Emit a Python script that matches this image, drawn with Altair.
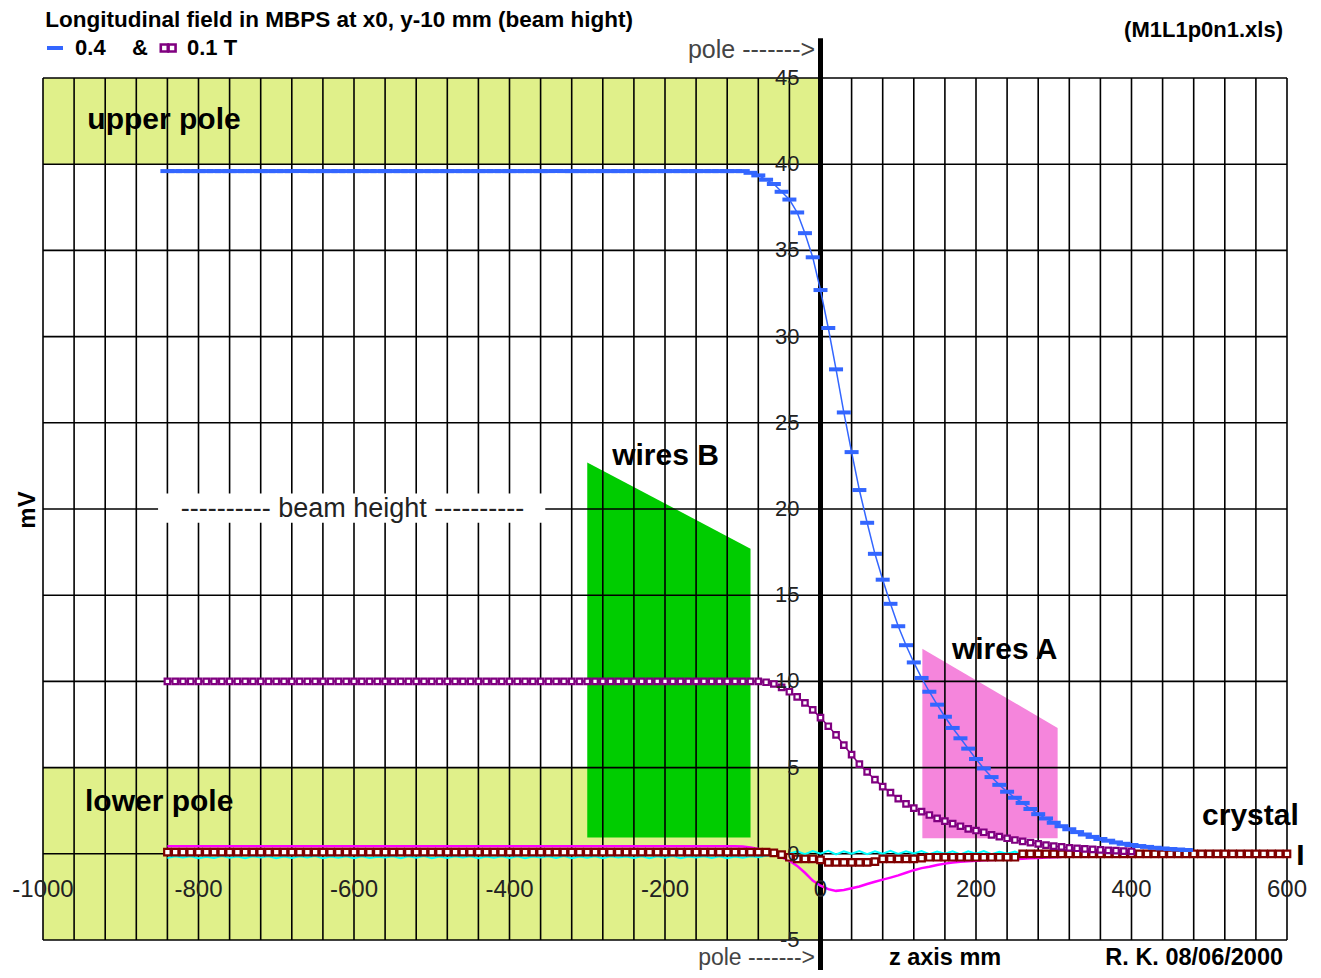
import altair as alt
import pandas as pd

# ---------------- data ----------------
# measurements are sampled every 10 mm starting at z = -840 mm
Z_START = -840
Z_STEP = 10

BLUE_04T = [
    39.6, 39.6, 39.6, 39.6, 39.6, 39.6, 39.6, 39.6, 39.6, 39.6,
    39.6, 39.6, 39.6, 39.6, 39.6, 39.6, 39.6, 39.6, 39.6, 39.6,
    39.6, 39.6, 39.6, 39.6, 39.6, 39.6, 39.6, 39.6, 39.6, 39.6,
    39.6, 39.6, 39.6, 39.6, 39.6, 39.6, 39.6, 39.6, 39.6, 39.6,
    39.6, 39.6, 39.6, 39.6, 39.6, 39.6, 39.6, 39.6, 39.6, 39.6,
    39.6, 39.6, 39.6, 39.6, 39.6, 39.6, 39.6, 39.6, 39.6, 39.6,
    39.6, 39.6, 39.6, 39.6, 39.6, 39.6, 39.6, 39.6, 39.6, 39.6,
    39.6, 39.6, 39.6, 39.6, 39.6, 39.5, 39.35, 39.1, 38.85, 38.4,
    37.95, 37.2, 36.0, 34.6, 32.7, 30.5, 28.1, 25.6, 23.3, 21.1,
    19.2, 17.4, 15.9, 14.5, 13.2, 12.1, 11.1, 10.2, 9.4, 8.65,
    7.95, 7.3, 6.7, 6.1, 5.5, 4.95, 4.45, 4.0, 3.6, 3.25,
    2.95, 2.6, 2.3, 2.05, 1.8, 1.6, 1.42, 1.26, 1.12, 0.98,
    0.86, 0.76, 0.66, 0.58, 0.51, 0.45, 0.4, 0.35, 0.31, 0.28,
    0.25, 0.22,
]

PURPLE_01T = [
    10.0, 10.0, 10.0, 10.0, 10.0, 10.0, 10.0, 10.0, 10.0, 10.0,
    10.0, 10.0, 10.0, 10.0, 10.0, 10.0, 10.0, 10.0, 10.0, 10.0,
    10.0, 10.0, 10.0, 10.0, 10.0, 10.0, 10.0, 10.0, 10.0, 10.0,
    10.0, 10.0, 10.0, 10.0, 10.0, 10.0, 10.0, 10.0, 10.0, 10.0,
    10.0, 10.0, 10.0, 10.0, 10.0, 10.0, 10.0, 10.0, 10.0, 10.0,
    10.0, 10.0, 10.0, 10.0, 10.0, 10.0, 10.0, 10.0, 10.0, 10.0,
    10.0, 10.0, 10.0, 10.0, 10.0, 10.0, 10.0, 10.0, 10.0, 10.0,
    10.0, 10.0, 10.0, 10.0, 10.0, 10.0, 10.0, 9.95, 9.85, 9.65,
    9.4, 9.1, 8.75, 8.35, 7.9, 7.4, 6.9, 6.3, 5.75, 5.2,
    4.75, 4.3, 3.9, 3.55, 3.2, 2.9, 2.65, 2.45, 2.25, 2.05,
    1.9, 1.75, 1.6, 1.45, 1.35, 1.25, 1.1, 1.0, 0.9, 0.8,
    0.72, 0.65, 0.58, 0.5, 0.45, 0.4, 0.35, 0.32, 0.29, 0.26,
    0.23, 0.2, 0.18, 0.16, 0.14,
]

DARKRED = [
    0.1, 0.1, 0.1, 0.1, 0.1, 0.1, 0.1, 0.1, 0.1, 0.1,
    0.1, 0.1, 0.1, 0.1, 0.1, 0.1, 0.1, 0.1, 0.1, 0.1,
    0.1, 0.1, 0.1, 0.1, 0.1, 0.1, 0.1, 0.1, 0.1, 0.1,
    0.1, 0.1, 0.1, 0.1, 0.1, 0.1, 0.1, 0.1, 0.1, 0.1,
    0.1, 0.1, 0.1, 0.1, 0.1, 0.1, 0.1, 0.1, 0.1, 0.1,
    0.1, 0.1, 0.1, 0.1, 0.1, 0.1, 0.1, 0.1, 0.1, 0.1,
    0.1, 0.1, 0.1, 0.1, 0.1, 0.1, 0.1, 0.1, 0.1, 0.1,
    0.1, 0.1, 0.1, 0.1, 0.1, 0.1, 0.1, 0.1, 0.05, -0.05,
    -0.2, -0.3, -0.3, -0.3, -0.35, -0.5, -0.5, -0.5, -0.5, -0.5,
    -0.5, -0.45, -0.3, -0.3, -0.3, -0.3, -0.3, -0.25, -0.2, -0.2,
    -0.2, -0.2, -0.2, -0.2, -0.2, -0.2, -0.2, -0.2, -0.2, -0.2,
    0.0, 0.0, 0.0, 0.0, 0.0, 0.0, 0.0, 0.0, 0.0, 0.0,
    0.0, 0.0, 0.0, 0.0, 0.0, 0.0, 0.0, 0.0, 0.0, 0.0,
    0.0, 0.0, 0.0, 0.0, 0.0, 0.0, 0.0, 0.0, 0.0, 0.0,
    0.0, 0.0, 0.0, 0.0, 0.0,
]

MAGENTA = [
    0.44, 0.44, 0.44, 0.44, 0.44, 0.44, 0.44, 0.44, 0.44, 0.44,
    0.44, 0.44, 0.44, 0.44, 0.44, 0.44, 0.44, 0.44, 0.44, 0.44,
    0.44, 0.44, 0.44, 0.44, 0.44, 0.44, 0.44, 0.44, 0.44, 0.44,
    0.44, 0.44, 0.44, 0.44, 0.44, 0.44, 0.44, 0.44, 0.44, 0.44,
    0.44, 0.44, 0.44, 0.44, 0.44, 0.44, 0.44, 0.44, 0.44, 0.44,
    0.44, 0.44, 0.44, 0.44, 0.44, 0.44, 0.44, 0.44, 0.44, 0.44,
    0.44, 0.44, 0.44, 0.44, 0.44, 0.44, 0.44, 0.44, 0.44, 0.44,
    0.44, 0.44, 0.44, 0.44, 0.42, 0.36, 0.28, 0.15, 0.0, -0.2,
    -0.4, -0.7, -1.1, -1.55, -1.85, -2.05, -2.15, -2.1, -2.0, -1.9,
    -1.75, -1.62, -1.5, -1.38, -1.25, -1.1, -0.95, -0.83, -0.75, -0.65,
    -0.57, -0.5, -0.46, -0.43, -0.4, -0.38, -0.36, -0.34, -0.32, -0.3,
    -0.28, -0.26, -0.24, -0.22, -0.2, -0.18,
]

CYAN = [
    -0.25, -0.15, -0.22, -0.14, -0.25, -0.17, -0.24, -0.13, -0.23, -0.16,
    -0.25, -0.15, -0.21, -0.14, -0.26, -0.16, -0.24, -0.15, -0.22, -0.13,
    -0.25, -0.16, -0.23, -0.14, -0.25, -0.15, -0.24, -0.17, -0.22, -0.14,
    -0.25, -0.15, -0.23, -0.13, -0.26, -0.16, -0.24, -0.15, -0.22, -0.14,
    -0.25, -0.16, -0.23, -0.15, -0.24, -0.14, -0.25, -0.16, -0.22, -0.15,
    -0.24, -0.13, -0.25, -0.16, -0.23, -0.14, -0.25, -0.15, -0.22, -0.16,
    -0.24, -0.14, -0.25, -0.15, -0.23, -0.13, -0.25, -0.16, -0.22, -0.14,
    -0.24, -0.15, -0.25, -0.16, -0.23, -0.14, -0.2, -0.12, -0.1, -0.05,
    0.0, 0.15, -0.02, 0.16, 0.0, 0.17, -0.03, 0.15, 0.01, 0.16,
    -0.02, 0.14, 0.0, 0.17, -0.01, 0.15, 0.02, 0.16, -0.02, 0.13,
    0.0, 0.15, -0.03, 0.14, 0.01, 0.16, -0.02, 0.12, 0.0, 0.13,
    -0.05, 0.08, -0.06, 0.07, -0.05, 0.06, -0.07, 0.05, -0.06, 0.07,
    -0.05, 0.06, -0.07, 0.05, -0.06, 0.06, -0.05, 0.07, -0.06, 0.05,
    -0.07, 0.06, -0.05, 0.05, -0.06, 0.07, -0.05, 0.06, -0.07, 0.05,
    -0.06, 0.06, -0.05, 0.05, -0.06,
]

X_TICKS = [-1000, -800, -600, -400, -200, 0, 200, 400, 600]
Y_TICKS = [-5, 0, 5, 10, 15, 20, 25, 30, 35, 40, 45]
X_GRID = list(range(-1000, 601, 40))
Y_GRID = list(range(-5, 46, 5))

# pole regions (yellow bands)
BAND_Z0 = [-1000, -1000]
BAND_Z1 = [0, 0]
BAND_Y0 = [40, -5]
BAND_Y1 = [45, 5]

# wires sketched as trapezoids
WIRES_B_Z = [-300, -90]
WIRES_B_TOP = [22.7, 17.7]
WIRES_B_BOTTOM = [0.95, 0.95]
WIRES_A_Z = [131, 305]
WIRES_A_TOP = [11.9, 7.3]
WIRES_A_BOTTOM = [0.9, 0.9]

FONT = "Liberation Sans"
W, H = 1244, 862

xs = alt.Scale(domain=[-1000, 600], nice=False, zero=False)
ys = alt.Scale(domain=[-5, 45], nice=False, zero=False)


def series(vals):
    return pd.DataFrame({"z": [Z_START + i * Z_STEP for i in range(len(vals))], "v": vals})


def X(field="z"):
    return alt.X(field, type="quantitative", scale=xs, axis=None)


def Y(field="v"):
    return alt.Y(field, type="quantitative", scale=ys, axis=None)


bands = alt.Chart(pd.DataFrame({"z0": BAND_Z0, "z1": BAND_Z1, "y0": BAND_Y0, "y1": BAND_Y1})).mark_rect(
    color="#e0f08a"
).encode(x=X("z0"), x2="z1", y=Y("y0"), y2="y1")

wires_b = alt.Chart(pd.DataFrame({"z": WIRES_B_Z, "top": WIRES_B_TOP, "bot": WIRES_B_BOTTOM})).mark_area(
    color="#00cc00", opacity=1
).encode(x=X(), y=Y("top"), y2="bot")

wires_a = alt.Chart(pd.DataFrame({"z": WIRES_A_Z, "top": WIRES_A_TOP, "bot": WIRES_A_BOTTOM})).mark_area(
    color="#f585dc", opacity=1
).encode(x=X(), y=Y("top"), y2="bot")

vgrid = alt.Chart(pd.DataFrame({"z": X_GRID})).mark_rule(color="black", strokeWidth=1.6).encode(x=X())
hgrid = alt.Chart(pd.DataFrame({"v": Y_GRID})).mark_rule(color="black", strokeWidth=1.6).encode(y=Y())

beam_box = alt.Chart(pd.DataFrame({"z0": [-852], "z1": [-354], "y0": [19.2], "y1": [20.9]})).mark_rect(
    color="white"
).encode(x=X("z0"), x2="z1", y=Y("y0"), y2="y1")

pole_line = alt.Chart(pd.DataFrame({"z": [0], "y0": [47.3], "y1": [-6.75]})).mark_rule(
    color="black", strokeWidth=5
).encode(x=X(), y=Y("y0"), y2="y1")

cyan = alt.Chart(series(CYAN)).mark_line(color="#00ffff", strokeWidth=2).encode(x=X(), y=Y())
magenta = alt.Chart(series(MAGENTA)).mark_line(color="#ff00ff", strokeWidth=2.5).encode(x=X(), y=Y())
dr = series(DARKRED)
darkred_line = alt.Chart(dr).mark_line(color="#800000", strokeWidth=2).encode(x=X(), y=Y())
darkred_pts = alt.Chart(dr).mark_point(
    shape="square", size=42, fill="white", filled=False, stroke="#800000", strokeWidth=2.2, opacity=1
).encode(x=X(), y=Y())
pu = series(PURPLE_01T)
purple_line = alt.Chart(pu).mark_line(color="#800080", strokeWidth=1.5).encode(x=X(), y=Y())
purple_pts = alt.Chart(pu).mark_point(
    shape="square", size=30, fill="white", filled=False, stroke="#800080", strokeWidth=2.2, opacity=1
).encode(x=X(), y=Y())
bl = series(BLUE_04T)
blue_line = alt.Chart(bl).mark_line(color="#3366ff", strokeWidth=1.5).encode(x=X(), y=Y())
blue_ticks = alt.Chart(bl).mark_tick(
    color="#3366ff", orient="horizontal", size=14, thickness=4, opacity=1
).encode(x=X(), y=Y())

# legend glyphs
leg_blue = alt.Chart(pd.DataFrame({"z": [-984.6], "v": [46.74]})).mark_tick(
    color="#3366ff", orient="horizontal", size=16, thickness=4, opacity=1
).encode(x=X(), y=Y())
leg_purple = alt.Chart(pd.DataFrame({"z": [-844, -834], "v": [46.74, 46.74]})).mark_point(
    shape="square", size=49, fill="white", filled=False, stroke="#800080", strokeWidth=2.6, opacity=1
).encode(x=X(), y=Y())


def texts(rows, size, weight="normal", align="left", color="black", angle=0, dx=0, dy=0):
    df = pd.DataFrame(rows, columns=["z", "v", "t"])
    return alt.Chart(df).mark_text(
        font=FONT, fontSize=size, fontWeight=weight, align=align, baseline="middle",
        color=color, angle=angle, dx=dx, dy=dy,
    ).encode(x=X(), y=Y(), text="t:N")


title_t = texts([[-997, 48.37, "Longitudinal field in MBPS at x0, y-10 mm (beam hight)"]], 22.5, "bold")
legend_t = texts([[-958.8, 46.74, "0.4"], [-885.5, 46.74, "&"], [-814.8, 46.74, "0.1 T"]], 22, "bold")
file_t = texts([[594.9, 47.79, "(M1L1p0n1.xls)"]], 22, "bold", align="right")
pole_t = texts([[-7, 46.6, "pole ------->"]], 25, align="right", color="#444444")
pole_b = texts([[-7, -6.04, "pole ------->"]], 23, align="right", color="#444444")
bottom_t = texts([[88, -6.04, "z axis mm"]], 23.5, "bold")
author_t = texts([[594.9, -6.04, "R. K. 08/06/2000"]], 23.5, "bold", align="right")
big_t = texts(
    [[-943, 42.55, "upper pole"], [-946, 3.0, "lower pole"], [-268, 23.06, "wires B"],
     [169, 11.8, "wires A"], [490.7, 2.2, "crystal"], [612, -0.1, "I"]],
    30, "bold",
)
beam_t = texts([[-602, 20.0, "----------  beam height  ----------"]], 27, color="#222222", align="center")
mv_t = texts([[-1019.3, 19.94, "mV"]], 24, "bold", align="center", angle=270)

xlab = alt.Chart(pd.DataFrame({"z": X_TICKS, "v": [0] * len(X_TICKS), "t": [str(t) for t in X_TICKS]})).mark_text(
    font=FONT, fontSize=24, align="center", baseline="middle", color="#222222", dy=36
).encode(x=X(), y=Y(), text="t:N")
ylab = alt.Chart(pd.DataFrame({"z": [0] * len(Y_TICKS), "v": Y_TICKS, "t": [str(t) for t in Y_TICKS]})).mark_text(
    font=FONT, fontSize=22, align="right", baseline="middle", color="#222222", dx=-21
).encode(x=X(), y=Y(), text="t:N")

chart = alt.layer(
    bands, wires_b, wires_a, vgrid, hgrid, beam_box, pole_line,
    cyan, magenta, darkred_line, darkred_pts, purple_line, purple_pts, blue_line, blue_ticks,
    leg_blue, leg_purple,
    xlab, ylab, title_t, legend_t, file_t, pole_t, pole_b, bottom_t, author_t, big_t, beam_t, mv_t,
).properties(
    width=W, height=H,
    autosize=alt.AutoSizeParams(type="none"),
    padding={"left": 35, "top": 70, "right": 26, "bottom": 30},
    background="white",
).configure_view(stroke=None)

chart.save("out.html", embed_options={"renderer": "svg", "actions": False})
